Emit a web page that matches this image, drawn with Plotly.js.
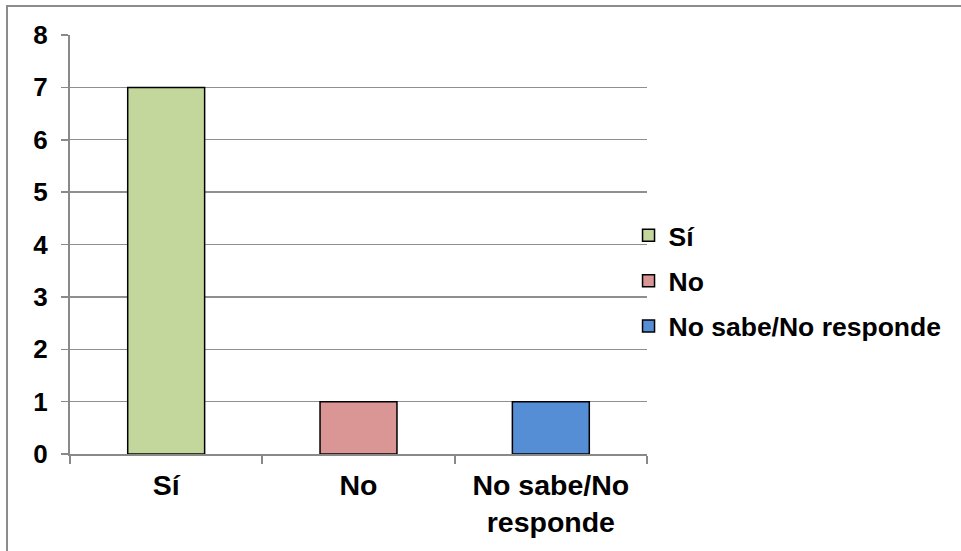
<!DOCTYPE html>
<html>
<head>
<meta charset="utf-8">
<script src="https://cdn.plot.ly/plotly-3.0.1.min.js"></script>
<style>
  html, body { margin: 0; padding: 0; background: #fff; overflow: hidden; }
  #chart { width: 961px; height: 551px; }
  #frame { position: absolute; left: 6px; top: 5px; width: 1000px; height: 600px;
           border: 2px solid #8c8c8c; pointer-events: none; }
</style>
</head>
<body>
<div id="chart"></div>
<div id="frame"></div>
<script>
const categories = ["Sí", "No", "No sabe/No<br>responde"];
const seriesNames = ["Sí", "No", "No sabe/No responde"];
const values = [7, 1, 1];
const colors = ["#c3d69b", "#d99694", "#558ed5"];
const yTicks = [0, 1, 2, 3, 4, 5, 6, 7, 8];

const traces = seriesNames.map((name, i) => ({
  type: "bar",
  name: name,
  x: [categories[i]],
  y: [values[i]],
  marker: { color: colors[i], line: { color: "#000", width: 1.5 } },
  legendgroup: "g" + i,
  hoverinfo: "x+y"
}));

const font = { family: "Arial, 'Liberation Sans', sans-serif", color: "#000", weight: "bold" };

const layout = {
  width: 961, height: 551,
  margin: { l: 70, r: 314, t: 35, b: 97, pad: 0 },
  paper_bgcolor: "rgba(0,0,0,0)",
  plot_bgcolor: "#fff",
  font: font,
  barmode: "overlay",
  bargap: 0.6,
  showlegend: true,
  legend: {
    x: 0.968, xanchor: "left", y: 0.413, yanchor: "middle",
    font: Object.assign({}, font, { size: 26.5 }),
    tracegroupgap: 8,
    bgcolor: "rgba(0,0,0,0)"
  },
  xaxis: {
    type: "category",
    categoryorder: "array", categoryarray: categories,
    showline: true, linecolor: "#898989", linewidth: 2,
    ticks: "outside", ticklen: 8, tickcolor: "#898989", tickwidth: 2,
    tickson: "boundaries",
    showgrid: false,
    tickfont: Object.assign({}, font, { size: 28.5 }),
    ticklabelstandoff: 5,
    fixedrange: true
  },
  yaxis: {
    range: [0, 8],
    tickvals: yTicks,
    showline: true, linecolor: "#898989", linewidth: 2,
    ticks: "outside", ticklen: 7, tickcolor: "#898989", tickwidth: 1.5,
    showgrid: true, gridcolor: "#8f8f8f", gridwidth: 1.3,
    zeroline: false,
    tickfont: Object.assign({}, font, { size: 26 }),
    ticklabelstandoff: 8,
    fixedrange: true
  }
};

Plotly.newPlot("chart", traces, layout, { displayModeBar: false, staticPlot: true });
</script>
</body>
</html>
